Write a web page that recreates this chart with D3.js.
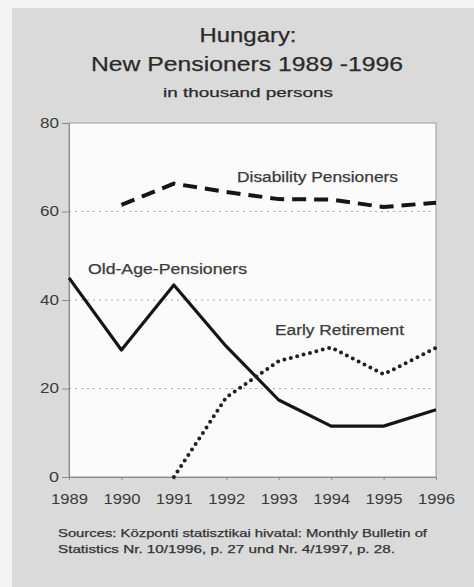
<!DOCTYPE html>
<html><head><meta charset="utf-8">
<script src="https://cdn.jsdelivr.net/npm/d3@7"></script>
<style>
html,body{margin:0;padding:0;background:#f3f3f3;}
svg{display:block;font-family:"Liberation Sans",Arial,sans-serif;}
</style></head>
<body><svg id="c" width="474" height="587"></svg>
<script>
const years = [1989,1990,1991,1992,1993,1994,1995,1996];
const oldAge = [45.0,28.7,43.4,29.5,17.4,11.5,11.5,15.2];
const disabilityYears = [1990,1991,1992,1993,1994,1995,1996];
const disability = [61.5,66.3,64.4,62.8,62.7,61.0,62.0];
const earlyYears = [1991,1992,1993,1994,1995,1996];
const early = [0,18.0,26.2,29.3,23.2,29.2];
const yTicks = [0,20,40,60,80];
const gridTicks = [20,40,60];

const svg = d3.select("#c");
svg.append("rect").attr("x",12).attr("y",8).attr("width",470).attr("height",590).attr("fill","#dadada");

const x = d3.scaleLinear().domain([1989,1996]).range([69,436]);
const y = d3.scaleLinear().domain([0,80]).range([477,123]);

svg.append("rect").attr("x",x(1989)).attr("y",y(80)).attr("width",x(1996)-x(1989)).attr("height",y(0)-y(80))
  .attr("fill","#fbfbfb").attr("stroke","#9a9a9a").attr("stroke-width",1);

svg.append("g").selectAll("line").data(gridTicks).join("line")
  .attr("x1",x(1989)).attr("x2",x(1996)).attr("y1",d=>y(d)).attr("y2",d=>y(d))
  .attr("stroke","#a8a8a8").attr("stroke-width",1).attr("stroke-dasharray","2,4");

const yAxis = svg.append("g").attr("transform",`translate(${x(1989)},0)`)
  .call(d3.axisLeft(y).tickValues(yTicks).tickSize(7).tickPadding(3));
yAxis.select(".domain").attr("stroke","#8a8a8a");
yAxis.selectAll(".tick line").attr("stroke","#8a8a8a");
yAxis.selectAll("text").attr("font-size",14).attr("fill","#3a3a3a")
  .attr("font-family","Liberation Sans, Arial, sans-serif")
  .attr("textLength",d=>String(d).length===1?10:19).attr("lengthAdjust","spacingAndGlyphs");

const xAxis = svg.append("g").attr("transform",`translate(0,${y(0)})`)
  .call(d3.axisBottom(x).tickValues(years).tickFormat(d3.format("d")).tickSize(3).tickPadding(13));
xAxis.select(".domain").attr("stroke","#8a8a8a");
xAxis.selectAll(".tick line").attr("stroke","#8a8a8a");
xAxis.selectAll("text").attr("font-size",15).attr("fill","#3a3a3a")
  .attr("font-family","Liberation Sans, Arial, sans-serif")
  .attr("textLength",37).attr("lengthAdjust","spacingAndGlyphs");

const line = d3.line().x(d=>x(d[0])).y(d=>y(d[1]));

svg.append("path").datum(d3.zip(years,oldAge)).attr("d",line)
  .attr("fill","none").attr("stroke","#151515").attr("stroke-width",3.2).attr("stroke-linejoin","round");
svg.append("path").datum(d3.zip(disabilityYears,disability)).attr("d",line)
  .attr("fill","none").attr("stroke","#151515").attr("stroke-width",4).attr("stroke-dasharray","14,8");
svg.append("path").datum(d3.zip(earlyYears,early)).attr("d",line)
  .attr("fill","none").attr("stroke","#202020").attr("stroke-width",4).attr("stroke-linecap","round").attr("stroke-dasharray","0,6.6");

function txt(s,cx,by,size,len,anchor,col){
  svg.append("text").attr("x",cx).attr("y",by).attr("font-size",size).attr("text-anchor",anchor||"middle")
    .attr("fill",col||"#2a2a2a").attr("stroke",col||"#2a2a2a").attr("stroke-width",0.25)
    .attr("textLength",len).attr("lengthAdjust","spacingAndGlyphs").text(s);
}
txt("Hungary:",248,42,20,97);
txt("New Pensioners 1989 -1996",247,71,21,312);
txt("in thousand persons",248,97,13,170);
txt("Disability Pensioners",237,182,14,161,"start","#3a3a3a");
txt("Old-Age-Pensioners",88,274,14,159,"start","#3a3a3a");
txt("Early Retirement",275,335,14,129,"start","#3a3a3a");
txt("Sources: Központi statisztikai hivatal: Monthly Bulletin of",58,537,11,369,"start","#333");
txt("Statistics Nr. 10/1996, p. 27 und Nr. 4/1997, p. 28.",58,553,11,337,"start","#333");
</script></body></html>
